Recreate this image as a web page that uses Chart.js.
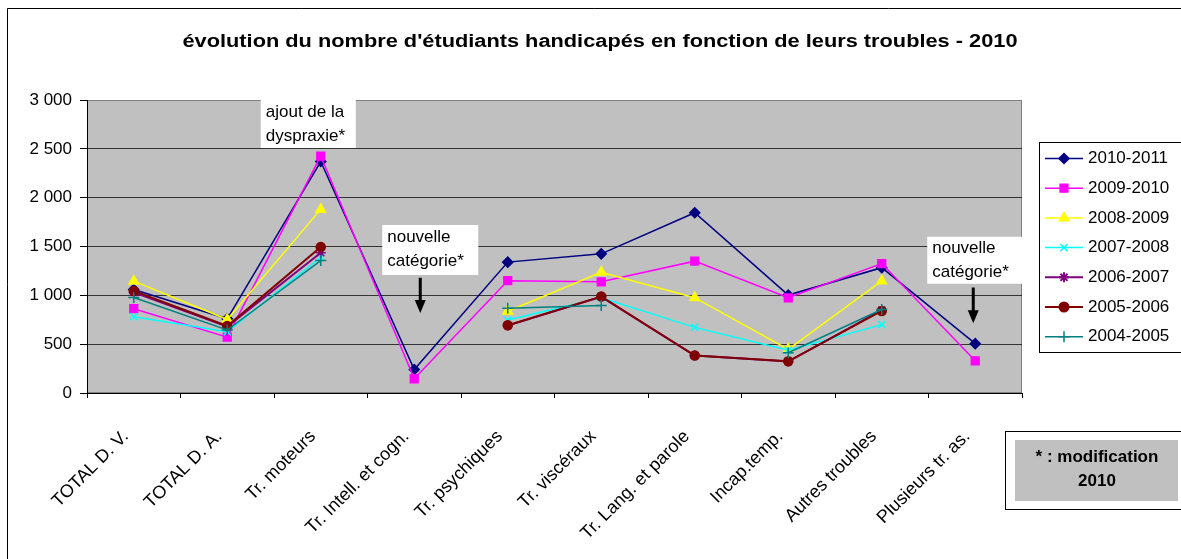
<!DOCTYPE html>
<html lang="fr">
<head>
<meta charset="utf-8">
<title>évolution du nombre d'étudiants handicapés - 2010</title>
<script src="https://cdn.jsdelivr.net/npm/chart.js@4.4.0/dist/chart.umd.min.js"></script>
<style>
    html, body { margin: 0; padding: 0; background: #ffffff; }
    #wrap { position: relative; width: 1181px; height: 559px; }
</style>
</head>
<body>
<div id="wrap"><canvas id="troublesChart" width="1181" height="559"></canvas></div>
<script>
// Données
const categories = ['TOTAL D. V.', 'TOTAL D. A.', 'Tr. moteurs', 'Tr. Intell. et cogn.', 'Tr. psychiques',
    'Tr. viscéraux', 'Tr. Lang. et parole', 'Incap.temp.', 'Autres troubles', 'Plusieurs tr. as.'];
const annees = ['2010-2011', '2009-2010', '2008-2009', '2007-2008', '2006-2007', '2005-2006', '2004-2005'];

const serie2010 = [1060, 760, 2370, 240, 1340, 1425, 1846, 1003, 1283, 505];
const serie2009 = [863, 572, 2426, 146, 1150, 1138, 1350, 975, 1325, 330];
const serie2008 = [1145, 752, 1880, null, 837, 1237, 976, 447, 1148, null];
const serie2007 = [781, 628, 1390, null, 747, 975, 672, 438, 700, null];
const serie2006 = [1030, 680, 1436, null, 690, 985, 384, 322, 848, null];
const serie2005 = [1045, 686, 1495, null, 693, 988, 384, 325, 840, null];
const serie2004 = [977, 645, 1356, null, 867, 897, null, 412, 855, null];

const yTicks = [0, 500, 1000, 1500, 2000, 2500, 3000];

// Styles des séries
const couleurs = ['#000080', '#FF00FF', '#FFFF00', '#00FFFF', '#800080', '#800000', '#008080'];
const marqueurs = ['rectRot', 'rect', 'triangle', 'crossRot', 'star', 'circle', 'cross'];
const rayons = [5, 5.5, 5.5, 5, 5, 4.5, 5.5];
const epaisseurs = [1.5, 1.5, 1.5, 1.5, 2, 2, 1.5];

const FONT = 'Liberation Sans, Arial, sans-serif';

function formatMilliers(v) {
    return String(v).replace(/\B(?=(\d{3})+(?!\d))/g, ' ');
}

// Fond, zone de tracé et cadre
const fondPlugin = {
    id: 'fond',
    beforeDraw(chart) {
        const ctx = chart.ctx;
        const a = chart.chartArea;
        ctx.save();
        ctx.fillStyle = '#ffffff';
        ctx.fillRect(0, 0, chart.width, chart.height);
        ctx.strokeStyle = '#000000';
        ctx.lineWidth = 1;
        ctx.beginPath();
        ctx.moveTo(7.5, chart.height + 2);
        ctx.lineTo(7.5, 8.5);
        ctx.lineTo(chart.width + 2, 8.5);
        ctx.stroke();
        ctx.fillStyle = '#C0C0C0';
        ctx.fillRect(a.left, a.top, a.right - a.left, a.bottom - a.top);
        ctx.strokeStyle = '#808080';
        ctx.strokeRect(a.left + 0.5, a.top + 0.5, a.right - a.left - 1, a.bottom - a.top - 1);
        ctx.restore();
    }
};

function boiteTexte(ctx, x, y, w, h, lignes) {
    ctx.fillStyle = '#ffffff';
    ctx.fillRect(x, y, w, h);
    ctx.fillStyle = '#000000';
    ctx.font = '17px ' + FONT;
    ctx.textAlign = 'left';
    ctx.textBaseline = 'middle';
    lignes.forEach((t, i) => ctx.fillText(t, x + 5, y + 12 + i * 24));
}

function fleche(ctx, x, y1, y2) {
    ctx.fillStyle = '#000000';
    ctx.fillRect(x - 1.5, y1, 3, y2 - y1 - 12);
    ctx.beginPath();
    ctx.moveTo(x - 5.5, y2 - 13);
    ctx.lineTo(x + 5.5, y2 - 13);
    ctx.lineTo(x, y2);
    ctx.closePath();
    ctx.fill();
}

// Titre, annotations, légende et note
const habillagePlugin = {
    id: 'habillage',
    afterDraw(chart) {
        const ctx = chart.ctx;
        const xs = chart.scales.x;
        const ys = chart.scales.y;
        ctx.save();

        // titre (texte un peu élargi comme dans l'original)
        const titre = "évolution du nombre d'étudiants handicapés en fonction de leurs troubles - 2010";
        ctx.fillStyle = '#000000';
        ctx.font = 'bold 18px ' + FONT;
        ctx.textAlign = 'center';
        ctx.textBaseline = 'middle';
        const largeur = ctx.measureText(titre).width;
        ctx.save();
        ctx.translate(600, 42);
        ctx.scale(835 / largeur, 1);
        ctx.fillText(titre, 0, 0);
        ctx.restore();

        // annotations
        boiteTexte(ctx, xs.getPixelForValue(2) - 60, ys.getPixelForValue(3000), 95, 48, ['ajout de la', 'dyspraxie*']);
        boiteTexte(ctx, xs.getPixelForValue(3) - 32, ys.getPixelForValue(1720), 96, 50, ['nouvelle', 'catégorie*']);
        fleche(ctx, xs.getPixelForValue(3) + 6, ys.getPixelForValue(1180), ys.getPixelForValue(820));
        boiteTexte(ctx, xs.getPixelForValue(9) - 48, ys.getPixelForValue(1600), 95, 47, ['nouvelle', 'catégorie*']);
        fleche(ctx, xs.getPixelForValue(9) - 2, ys.getPixelForValue(1080), ys.getPixelForValue(715));

        // légende
        const lx = 1039, ly = 142;
        ctx.fillStyle = '#ffffff';
        ctx.fillRect(lx, ly, 160, 210);
        ctx.strokeStyle = '#000000';
        ctx.lineWidth = 1;
        ctx.strokeRect(lx + 0.5, ly + 0.5, 160, 210);
        annees.forEach((nom, i) => {
            const y = ly + 16.5 + i * 29.7;
            ctx.strokeStyle = couleurs[i];
            ctx.fillStyle = couleurs[i];
            ctx.lineWidth = epaisseurs[i];
            ctx.beginPath();
            ctx.moveTo(lx + 6, y);
            ctx.lineTo(lx + 44, y);
            ctx.stroke();
            Chart.helpers.drawPoint(ctx, {
                pointStyle: marqueurs[i], radius: rayons[i], rotation: 0, borderWidth: 1.5
            }, lx + 25, y);
            ctx.fillStyle = '#000000';
            ctx.font = '17px ' + FONT;
            ctx.textAlign = 'left';
            ctx.textBaseline = 'middle';
            ctx.fillText(nom, lx + 49, y);
        });

        // note
        ctx.strokeStyle = '#000000';
        ctx.lineWidth = 1;
        ctx.strokeRect(1005.5, 431.5, 190, 78);
        ctx.fillStyle = '#C0C0C0';
        ctx.fillRect(1015, 440, 163, 61);
        ctx.fillStyle = '#000000';
        ctx.font = 'bold 17px ' + FONT;
        ctx.textAlign = 'center';
        ctx.fillText('* : modification', 1097, 457);
        ctx.fillText('2010', 1097, 481);

        ctx.restore();
    }
};

function initChart() {
    const series = [serie2010, serie2009, serie2008, serie2007, serie2006, serie2005, serie2004];
    const datasets = series.map((data, i) => ({
        label: annees[i],
        data: data,
        borderColor: couleurs[i],
        backgroundColor: couleurs[i],
        borderWidth: epaisseurs[i],
        pointStyle: marqueurs[i],
        pointRadius: rayons[i],
        pointBorderWidth: 1.5,
        pointBackgroundColor: couleurs[i],
        pointBorderColor: couleurs[i],
        tension: 0,
        spanGaps: false,
        order: 6 - i
    }));

    Chart.defaults.font.family = FONT;
    Chart.defaults.font.size = 17;
    Chart.defaults.color = '#000000';

    new Chart(document.getElementById('troublesChart'), {
        type: 'line',
        data: { labels: categories, datasets: datasets },
        options: {
            responsive: false,
            animation: false,
            events: [],
            layout: { padding: { left: 0, top: 100, right: 159, bottom: 0 } },
            plugins: {
                legend: { display: false },
                title: { display: false },
                tooltip: { enabled: false }
            },
            scales: {
                x: {
                    offset: true,
                    afterFit(scale) { scale.height = 166; },
                    grid: {
                        offset: true,
                        drawOnChartArea: false,
                        drawTicks: true,
                        tickLength: 5,
                        color: '#000000'
                    },
                    border: { display: true, color: '#000000', width: 1 },
                    ticks: {
                        minRotation: 45,
                        maxRotation: 45,
                        autoSkip: false,
                        padding: 28,
                        labelOffset: -8,
                        font: { size: 18 }
                    }
                },
                y: {
                    min: 0,
                    max: 3000,
                    afterFit(scale) { scale.width = 87; },
                    afterBuildTicks(scale) { scale.ticks = yTicks.map(v => ({ value: v })); },
                    grid: {
                        color: ctx => (ctx.tick && ctx.tick.value === 3000 ? '#808080' : '#333333'),
                        tickColor: '#000000',
                        tickLength: 7,
                        lineWidth: 1
                    },
                    border: { display: true, color: '#000000', width: 1 },
                    ticks: {
                        padding: 8,
                        font: { size: 17 },
                        callback: v => formatMilliers(v)
                    }
                }
            }
        },
        plugins: [fondPlugin, habillagePlugin]
    });
}

document.addEventListener('DOMContentLoaded', function() {
    initChart();
});
</script>
</body>
</html>
